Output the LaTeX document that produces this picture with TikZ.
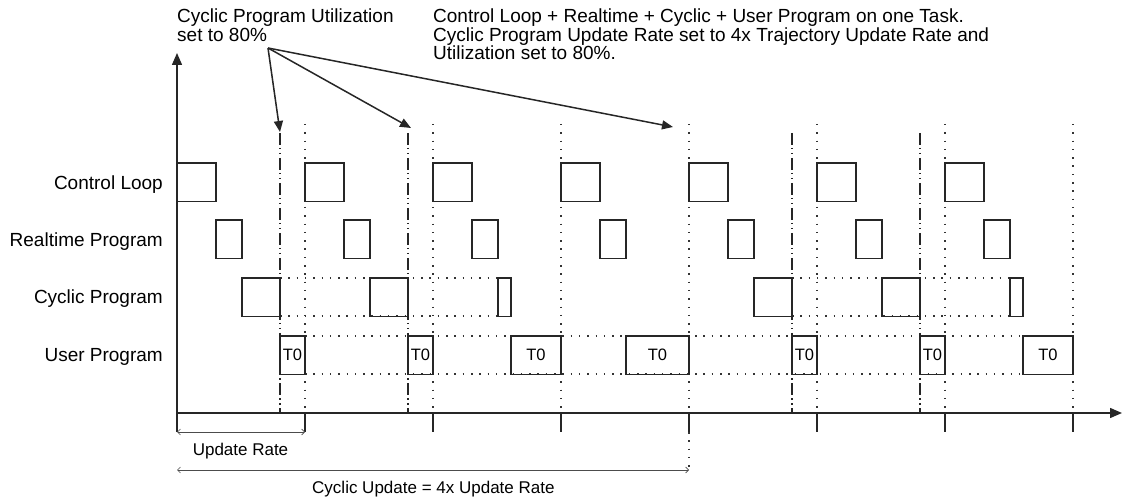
\documentclass[tikz,border=0pt]{standalone}
\usepackage{fontspec}
\setmainfont{Liberation Sans}
\usetikzlibrary{positioning, arrows.meta}

\begin{document}
\begin{tikzpicture}[
    x=1pt, y=-1pt,
    font=\fontsize{19}{18.5}\selectfont,
    >={Triangle[length=11pt, width=9pt]},
    task/.style={draw=black!85, line width=1.3pt, inner sep=0pt, outer sep=0pt, minimum height=38.5pt, anchor=north west, font=\fontsize{16.5}{16.5}\selectfont},
    ctrlbox/.style={task, minimum width=39pt},
    rtbox/.style={task, minimum width=26pt},
    cycbox/.style={task, minimum width=38pt},
    usrbox/.style={task, minimum width=25pt},
    note/.style={anchor=north west, align=left, inner sep=0pt},
    rowlabel/.style={anchor=base east, inner sep=0pt},
    small/.style={inner sep=0pt, font=\fontsize{17}{17}\selectfont},
    axis/.style={line width=1.4pt, draw=black!85},
    callout/.style={->, line width=1.5pt, draw=black!85},
    grid/.style={line width=1.5pt, draw=black!80, dash pattern=on 1.5pt off 6.8pt},
    sync/.style={line width=1.5pt, draw=black!85, dash pattern=on 12pt off 3pt on 1.5pt off 3.5pt on 1.5pt off 3.5pt},
    dim/.style={{Straight Barb[length=3pt, width=6pt]}-{Straight Barb[length=3pt, width=6pt]}, line width=0.7pt, draw=black!70}
]
\useasboundingbox (0,0) rectangle (1124,502);

% Notes
\node[note] (util_note) at (177,9) {Cyclic Program Utilization\\set to 80\%};
\node[note] (task_note) at (433,9) {Control Loop + Realtime + Cyclic + User Program on one Task.\\Cyclic Program Update Rate set to 4x Trajectory Update Rate and\\Utilization set to 80\%.};

% Row labels
\node[rowlabel] (lbl_ctrl) at (163,190) {Control Loop};
\node[rowlabel] (lbl_rt) at (163,247) {Realtime Program};
\node[rowlabel] (lbl_cyc) at (163,304) {Cyclic Program};
\node[rowlabel] (lbl_usr) at (163,362) {User Program};

% Update rate grid
\draw[grid] (305,124) -- (305,413);
\draw[grid] (433,124) -- (433,413);
\draw[grid] (561,124) -- (561,413);
\draw[grid] (689,124) -- (689,413);
\draw[grid] (817,124) -- (817,413);
\draw[grid] (945,124) -- (945,413);
\draw[grid] (1073,124) -- (1073,413);
\draw[grid] (689,432) -- (689,470);

% End of cyclic slice
\draw[sync] (280,133) -- (280,413);
\draw[sync] (408,133) -- (408,413);
\draw[sync] (792,133) -- (792,413);
\draw[sync] (920,133) -- (920,413);

% Idle time
\draw[grid] (280,278) -- (498,278);
\draw[grid] (280,316) -- (498,316);
\draw[grid] (792,278) -- (1010,278);
\draw[grid] (792,316) -- (1010,316);
\draw[grid] (305,336) -- (1023,336);
\draw[grid] (305,374) -- (1023,374);

% Control Loop
\node[ctrlbox] (ctrl1) at (177,163) {};
\node[ctrlbox] (ctrl2) at (305,163) {};
\node[ctrlbox] (ctrl3) at (433,163) {};
\node[ctrlbox] (ctrl4) at (561,163) {};
\node[ctrlbox] (ctrl5) at (689,163) {};
\node[ctrlbox] (ctrl6) at (817,163) {};
\node[ctrlbox] (ctrl7) at (945,163) {};

% Realtime Program
\node[rtbox] (rt1) at (216,220) {};
\node[rtbox] (rt2) at (344,220) {};
\node[rtbox] (rt3) at (472,220) {};
\node[rtbox] (rt4) at (600,220) {};
\node[rtbox] (rt5) at (728,220) {};
\node[rtbox] (rt6) at (856,220) {};
\node[rtbox] (rt7) at (984,220) {};

% Cyclic Program
\node[cycbox] (cyc1) at (242,278) {};
\node[cycbox] (cyc2) at (370,278) {};
\node[cycbox, minimum width=13pt] (cyc3) at (498,278) {};
\node[cycbox] (cyc4) at (754,278) {};
\node[cycbox] (cyc5) at (882,278) {};
\node[cycbox, minimum width=13pt] (cyc6) at (1010,278) {};

% User Program
\node[usrbox] (usr1) at (280,336) {T0};
\node[usrbox] (usr2) at (408,336) {T0};
\node[usrbox, minimum width=50pt] (usr3) at (511,336) {T0};
\node[usrbox, minimum width=63pt] (usr4) at (626,336) {T0};
\node[usrbox] (usr5) at (792,336) {T0};
\node[usrbox] (usr6) at (920,336) {T0};
\node[usrbox, minimum width=50pt] (usr7) at (1023,336) {T0};

% Axes
\coordinate (origin) at (177,413);
\coordinate (y_top) at (177,53);
\coordinate (y_foot) at (177,432);
\coordinate (x_end) at (1122,413);
\draw[axis, -{Triangle[length=12pt, width=10pt]}] (y_foot) -- (y_top);
\draw[axis, -{Triangle[length=12pt, width=10pt]}] (origin) -- (x_end);
\draw[axis] (305,413) -- (305,432);
\draw[axis] (433,413) -- (433,432);
\draw[axis] (561,413) -- (561,432);
\draw[axis] (689,413) -- (689,432);
\draw[axis] (817,413) -- (817,432);
\draw[axis] (945,413) -- (945,432);
\draw[axis] (1073,413) -- (1073,432);

% Callout arrows
\coordinate (fork) at (268,48);
\coordinate (aim1) at (280,132);
\coordinate (aim2) at (411,128);
\coordinate (aim3) at (673,127);
\draw[callout] (fork) -- (aim1);
\draw[callout] (fork) -- (aim2);
\draw[callout] (fork) -- (aim3);

% Dimensions
\coordinate (rate_end) at (305,432);
\coordinate (cyc_start) at (177,470);
\coordinate (cyc_end) at (689,470);
\draw[dim] (y_foot) -- (rate_end);
\draw[dim] (cyc_start) -- (cyc_end);
\node[small, anchor=base] (rate_lbl) at (240.5,455) {Update Rate};
\node[small, anchor=base west] (cyc_lbl) at (312,493) {Cyclic Update = 4x Update Rate};

\end{tikzpicture}
\end{document}
